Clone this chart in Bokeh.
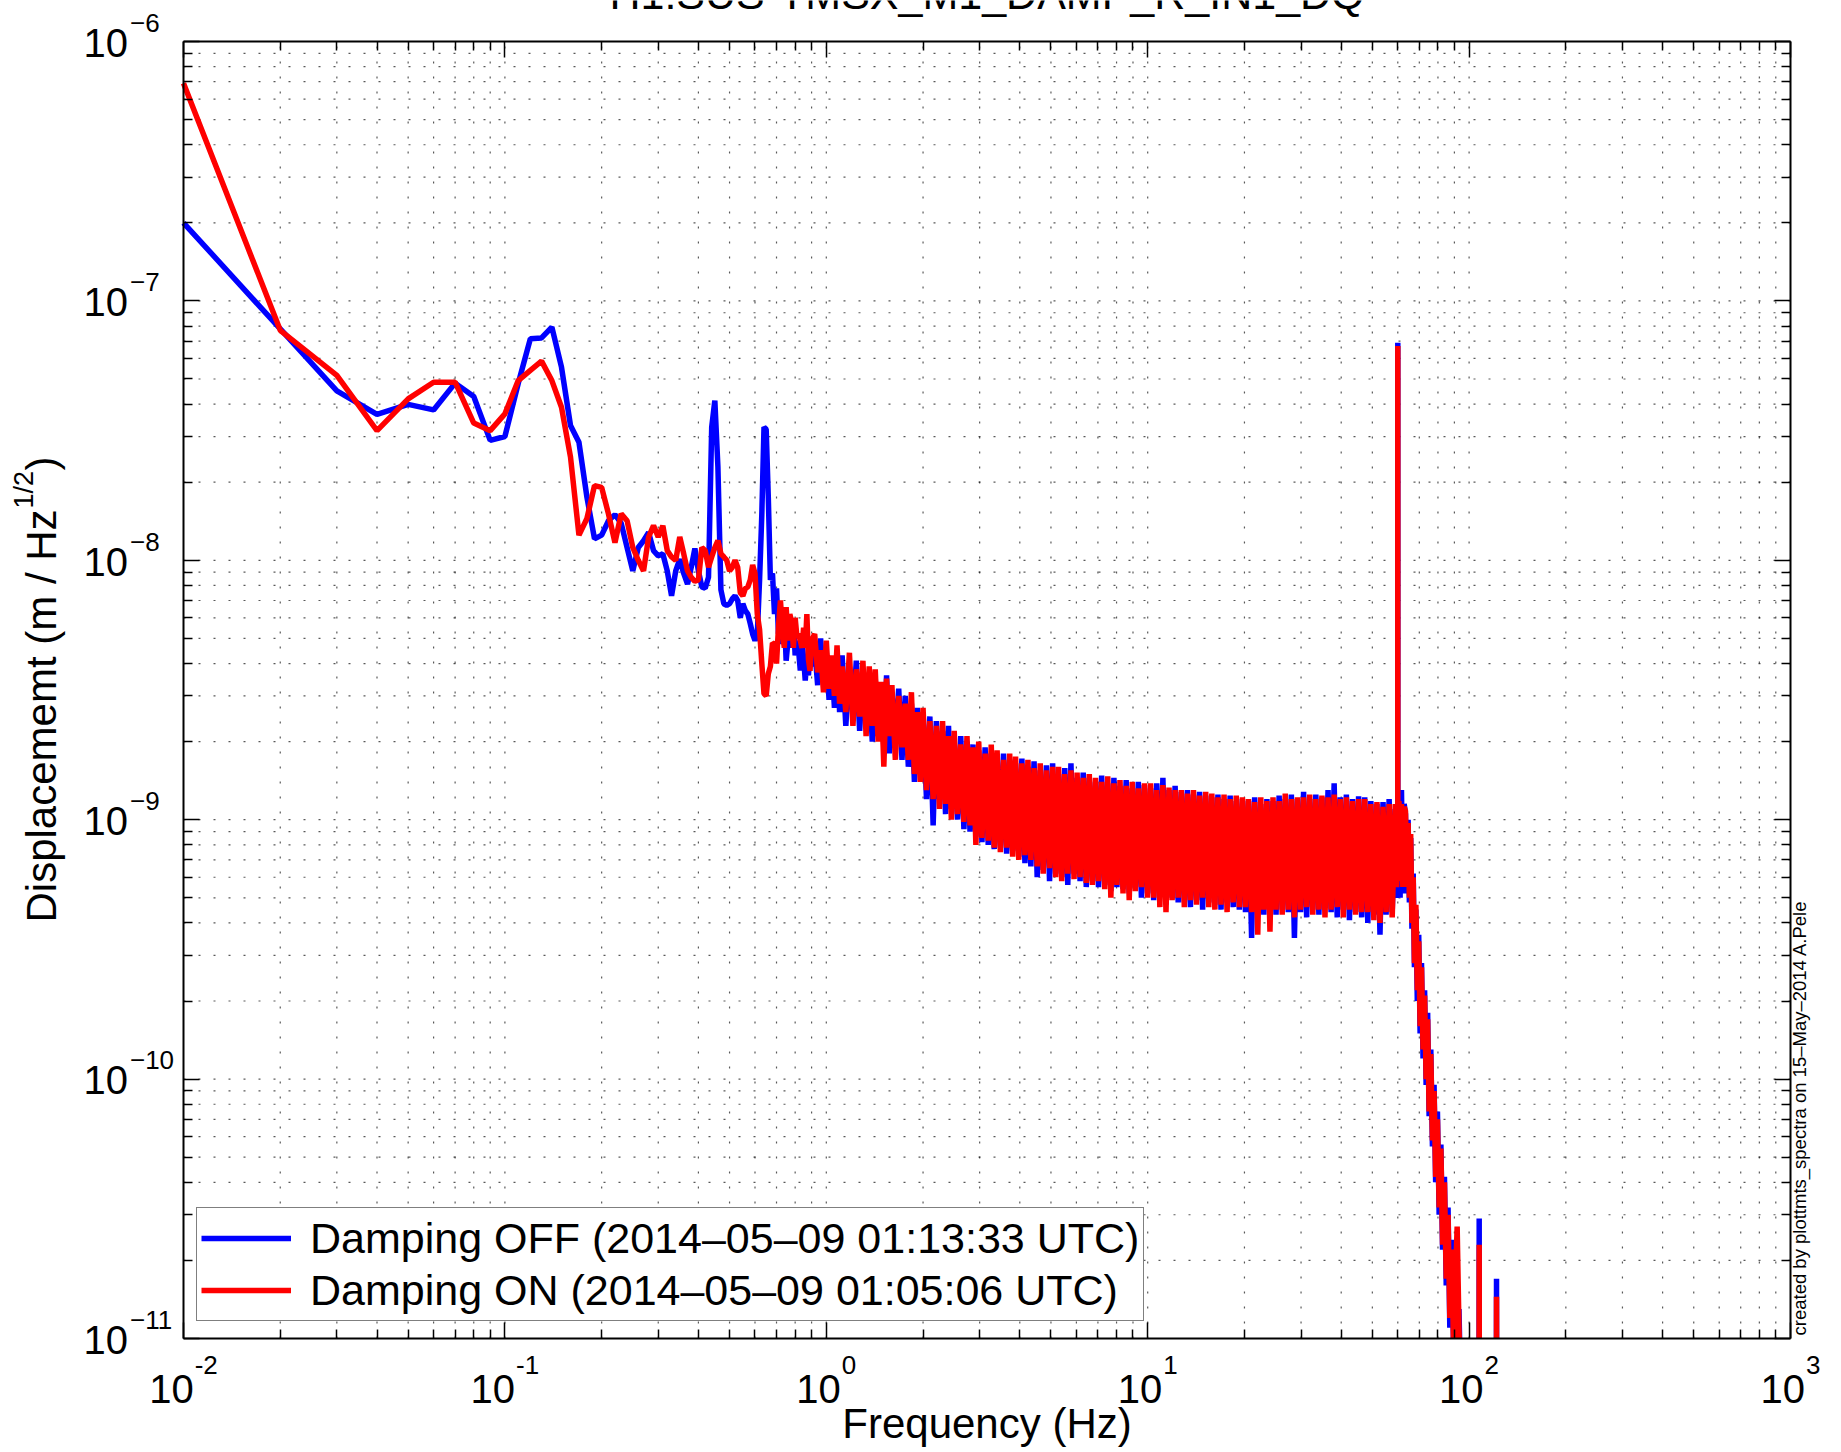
import numpy as np
from bokeh.plotting import figure
from bokeh.models import (Label, FixedTicker, CustomJSTickFormatter, LogAxis,
                          Legend, LegendItem, Range1d, ColumnDataSource)
from bokeh.embed import file_html
from bokeh.resources import INLINE

# ---------------------------------------------------------------- data
# frequency bins (Hz), low-frequency resolved part
freq_low = [0.01, 0.02, 0.03, 0.04, 0.05, 0.06, 0.07, 0.08, 0.09, 0.10,
            0.11, 0.12, 0.13, 0.14, 0.15, 0.16, 0.17, 0.18, 0.19, 0.20,
            0.21, 0.22, 0.23, 0.24, 0.25, 0.26, 0.27, 0.28, 0.29, 0.30,
            0.31, 0.32, 0.33, 0.34, 0.35, 0.36, 0.37, 0.38, 0.39, 0.40,
            0.41, 0.42, 0.43, 0.44, 0.45, 0.46, 0.47, 0.48, 0.49, 0.50,
            0.51, 0.52, 0.53, 0.54, 0.55, 0.56, 0.57, 0.58, 0.59, 0.60,
            0.61, 0.62, 0.63, 0.64, 0.65, 0.66, 0.67, 0.68, 0.69, 0.70,
            0.71, 0.72, 0.73, 0.74, 0.75, 0.76, 0.77, 0.78, 0.79, 0.80,
            0.81, 0.82, 0.83, 0.84, 0.85, 0.86, 0.87, 0.88, 0.89, 0.90]
# displacement in nm/sqrt(Hz) (x1e-9 m/sqrt(Hz)), damping OFF
off_low = [200, 78, 45, 36.5, 39.9, 38, 48.2, 42.8, 29, 30,
           48, 71.5, 72, 79.2, 55.5, 33.1, 28.5, 17.5, 12.1, 12.5,
           14.2, 15, 13.9, 11.2, 9.1, 11.2, 11.9, 12.8, 10.9, 10.4,
           10.6, 9.1, 7.3, 9.1, 10.1, 8.9, 8.1, 9.4, 11.1, 9.1,
           7.9, 7.8, 8.6, 32.6, 41.3, 22.9, 7.7, 6.8, 6.7, 6.8,
           7.1, 7.3, 7.0, 6.0, 6.8, 6.4, 6.2, 5.7, 5.2, 4.9,
           5.2, 8.4, 15, 32.6, 32, 17.5, 8.4, 8.9, 6.2, 7.8,
           5.2, 6.2, 4.75, 6.2, 4.1, 4.9, 5.4, 4.6, 5.9, 4.3,
           4.9, 4.5, 3.76, 4.9, 4.2, 3.44, 4.2, 3.6, 4.6, 3.9]
# damping ON
on_low = [690, 77, 51.6, 31.6, 41.9, 48.6, 48.6, 33.8, 31.6, 36.7,
          49.3, 54, 58.6, 49.3, 38.9, 25, 12.5, 14.5, 19.4, 19.1,
          15.1, 11.7, 15.1, 14.2, 11.2, 10.0, 9.1, 12.3, 13.6, 12.3,
          13.6, 10.9, 10.3, 10.0, 12.3, 10.6, 9.1, 8.6, 8.3, 8.4,
          11.2, 10.9, 9.4, 10.3, 11.2, 11.9, 10.6, 10.3, 10.0, 9.1,
          9.4, 10.0, 9.4, 7.5, 7.3, 7.8, 7.9, 8.4, 9.6, 8.9,
          6.2, 5.4, 4.0, 3.06, 3.0, 3.65, 3.9, 4.8, 4.75, 4.0,
          5.55, 7.0, 5.4, 4.6, 6.6, 4.9, 6.2, 5.8, 4.6, 6.0,
          5.1, 5.2, 4.9, 4.6, 5.5, 4.6, 6.2, 4.15, 3.75, 4.9]

# dense part (read as alternating peaks / troughs of the noisy band)
freq_high = [0.92, 0.94, 0.96, 0.98, 1.00, 1.02, 1.04, 1.06, 1.08, 1.10,
             1.12, 1.15, 1.18, 1.21, 1.24, 1.27, 1.30, 1.33, 1.36, 1.39,
             1.42, 1.45, 1.48, 1.51, 1.54, 1.57, 1.60, 1.64, 1.68, 1.72,
             1.76, 1.80, 1.84, 1.88, 1.92, 1.96, 2.00, 2.05, 2.10, 2.15,
             2.20, 2.25, 2.30, 2.35, 2.40, 2.45, 2.50, 2.56, 2.62, 2.68,
             2.74, 2.80, 2.86, 2.92, 2.98, 3.05, 3.12, 3.19, 3.26, 3.33,
             3.40, 3.48, 3.56, 3.64, 3.72, 3.80, 3.88, 3.97, 4.06, 4.15,
             4.24, 4.33, 4.43, 4.53, 4.63, 4.73, 4.84, 4.95, 5.06, 5.17,
             5.28, 5.40, 5.52, 5.64, 5.77, 5.90, 6.03, 6.16, 6.30, 6.44,
             6.58, 6.73, 6.88, 7.03, 7.19, 7.35, 7.51, 7.68, 7.85, 8.02,
             8.20, 8.38, 8.57, 8.76, 8.95, 9.15, 9.35, 9.56, 9.77, 9.99,
             10.21, 10.44, 10.67, 10.91, 11.15, 11.40, 11.65, 11.91, 12.17, 12.44,
             12.72, 13.00, 13.29, 13.58, 13.88, 14.19, 14.50, 14.82, 15.15, 15.49,
             15.83, 16.18, 16.54, 16.91, 17.28, 17.66, 18.05, 18.45, 18.86, 19.28,
             19.71, 20.15, 20.59, 21.05, 21.52, 22.00, 22.48, 22.98, 23.49, 24.01,
             24.54, 25.08, 25.64, 26.21, 26.79, 27.38, 27.99, 28.61, 29.24, 29.89,
             30.55, 31.23, 31.92, 32.63, 33.35, 34.09, 34.84, 35.61, 36.40, 37.21,
             38.03, 38.87, 39.73, 40.61, 41.51, 42.43, 43.37, 44.33, 45.31, 46.31,
             47.34, 48.39, 49.46, 50.55, 51.67, 52.81, 53.98, 55.17, 56.39, 57.64,
             58.92, 59.50, 59.99, 60.00, 60.01, 60.50, 61.00, 61.60, 62.20, 62.80,
             63.40, 64.00, 64.60, 65.20, 65.80, 66.40, 67.00, 67.60, 68.30, 69.00,
             69.70, 70.40, 71.10, 71.90, 72.70, 73.50, 74.30, 75.10, 76.00, 76.90,
             77.80, 78.70, 79.70, 80.70, 81.70, 82.70, 83.80, 84.90, 86.00, 87.10,
             88.30, 89.50, 90.70, 91.80, 93.00, 94.20, 95.50, 98.00, 101.00, 104.00,
             107.40, 107.50, 107.60, 112.00, 117.00, 121.60, 121.70, 121.80, 125.00, 128.00]
off_high = [4.6, 3.3, 5.0, 3.4, 4.4, 2.9, 4.1, 2.7, 4.5, 2.6,
            4.3, 2.3, 3.9, 2.5, 4.1, 2.2, 3.7, 2.4, 3.6, 2.0,
            3.5, 2.1, 3.3, 1.9, 3.6, 1.8, 3.1, 2.0, 3.2, 1.7,
            3.0, 1.6, 2.8, 1.4, 2.7, 1.5, 2.6, 1.2, 2.5, 0.95,
            2.4, 1.2, 2.2, 1.05, 2.3, 1.1, 2.0, 1.0, 2.1, 0.92,
            2.0, 0.9, 1.95, 0.86, 1.85, 0.82, 1.9, 0.8, 1.8, 0.77,
            1.75, 0.78, 1.8, 0.74, 1.7, 0.76, 1.65, 0.72, 1.72, 0.68,
            1.6, 0.66, 1.68, 0.6, 1.55, 0.64, 1.62, 0.58, 1.65, 0.62,
            1.5, 0.6, 1.58, 0.56, 1.65, 0.62, 1.45, 0.58, 1.52, 0.55,
            1.45, 0.58, 1.4, 0.55, 1.48, 0.56, 1.38, 0.53, 1.45, 0.55,
            1.35, 0.54, 1.42, 0.52, 1.32, 0.55, 1.4, 0.5, 1.36, 0.52,
            1.32, 0.49, 1.38, 0.52, 1.45, 0.47, 1.3, 0.5, 1.35, 0.48,
            1.28, 0.48, 1.3, 0.46, 1.25, 0.49, 1.28, 0.45, 1.24, 0.48,
            1.22, 0.47, 1.25, 0.45, 1.2, 0.48, 1.24, 0.46, 1.18, 0.45,
            1.2, 0.44, 1.18, 0.35, 1.22, 0.45, 1.15, 0.43, 1.2, 0.46,
            1.18, 0.43, 1.24, 0.45, 1.2, 0.44, 1.25, 0.35, 1.2, 0.44,
            1.28, 0.42, 1.2, 0.45, 1.25, 0.43, 1.22, 0.46, 1.3, 0.44,
            1.38, 0.42, 1.22, 0.45, 1.25, 0.41, 1.2, 0.44, 1.23, 0.42,
            1.22, 0.4, 1.18, 0.43, 1.15, 0.36, 1.17, 0.43, 1.2, 0.44,
            1.1, 0.5, 0.6, 69, 0.55, 1.2, 0.5, 1.3, 0.52, 1.15,
            1.05, 0.52, 1.0, 0.48, 0.85, 0.38, 0.62, 0.27, 0.45, 0.2,
            0.36, 0.15, 0.28, 0.12, 0.22, 0.095, 0.18, 0.072, 0.13, 0.055,
            0.095, 0.04, 0.075, 0.03, 0.056, 0.022, 0.042, 0.016, 0.032, 0.011,
            0.024, 0.009, 0.018, 0.01, 0.013, 0.006, 0.008, 0.004, 0.004, 0.0035,
            0.004, 0.029, 0.004, 0.0035, 0.003, 0.004, 0.017, 0.004, 0.003, 0.003]
on_high = [5.2, 3.7, 4.5, 3.1, 4.9, 3.2, 4.3, 3.0, 4.7, 2.8,
           3.9, 2.6, 4.4, 2.3, 3.8, 2.5, 4.1, 2.1, 3.9, 2.3,
           3.8, 2.0, 3.4, 1.6, 3.5, 2.1, 3.3, 1.7, 3.0, 1.9,
           2.8, 1.7, 3.1, 1.5, 2.6, 1.4, 2.7, 1.3, 2.4, 1.2,
           2.3, 1.1, 2.4, 1.15, 2.1, 1.0, 2.2, 1.05, 1.95, 0.98,
           2.1, 0.95, 1.9, 0.8, 2.0, 0.85, 1.8, 0.83, 1.95, 0.78,
           1.85, 0.75, 1.7, 0.78, 1.8, 0.72, 1.75, 0.7, 1.65, 0.73,
           1.7, 0.7, 1.58, 0.66, 1.65, 0.62, 1.55, 0.65, 1.6, 0.6,
           1.6, 0.58, 1.5, 0.62, 1.55, 0.59, 1.52, 0.6, 1.45, 0.57,
           1.5, 0.56, 1.45, 0.58, 1.4, 0.54, 1.47, 0.5, 1.38, 0.56,
           1.42, 0.52, 1.35, 0.49, 1.4, 0.53, 1.32, 0.55, 1.38, 0.5,
           1.38, 0.5, 1.3, 0.46, 1.36, 0.44, 1.33, 0.49, 1.3, 0.5,
           1.3, 0.46, 1.26, 0.49, 1.3, 0.47, 1.24, 0.5, 1.28, 0.46,
           1.26, 0.45, 1.22, 0.47, 1.25, 0.44, 1.2, 0.48, 1.24, 0.46,
           1.22, 0.46, 1.2, 0.44, 1.17, 0.36, 1.22, 0.45, 1.18, 0.37,
           1.22, 0.45, 1.18, 0.43, 1.26, 0.45, 1.2, 0.42, 1.22, 0.45,
           1.22, 0.46, 1.25, 0.43, 1.2, 0.45, 1.24, 0.42, 1.22, 0.45,
           1.25, 0.46, 1.2, 0.42, 1.22, 0.45, 1.18, 0.43, 1.2, 0.44,
           1.2, 0.44, 1.15, 0.41, 1.17, 0.4, 1.12, 0.44, 1.15, 0.42,
           1.15, 0.55, 0.7, 67, 0.6, 1.18, 0.58, 1.15, 0.55, 1.12,
           1.08, 0.55, 0.97, 0.5, 0.88, 0.4, 0.6, 0.28, 0.47, 0.22,
           0.34, 0.16, 0.27, 0.13, 0.21, 0.1, 0.17, 0.075, 0.125, 0.058,
           0.09, 0.042, 0.07, 0.032, 0.054, 0.023, 0.04, 0.017, 0.03, 0.012,
           0.022, 0.009, 0.017, 0.027, 0.011, 0.006, 0.007, 0.004, 0.0035, 0.0035,
           0.004, 0.023, 0.004, 0.0035, 0.003, 0.004, 0.0145, 0.004, 0.003, 0.003]

x_tick_values = [1e-2, 1e-1, 1e0, 1e1, 1e2, 1e3]
x_tick_exps = ["-2", "-1", "0", "1", "2", "3"]
y_tick_values = [1e-11, 1e-10, 1e-9, 1e-8, 1e-7, 1e-6]
y_tick_exps = ["\u221211", "\u221210", "\u22129", "\u22128", "\u22127", "\u22126"]

label_off = "Damping OFF (2014\u201305\u201309 01:13:33 UTC)"
label_on = "Damping ON (2014\u201305\u201309 01:05:06 UTC)"
title_text = "H1:SUS-TMSX_M1_DAMP_R_IN1_DQ"
credit_text = "created by plottmts_spectra on 15\u2013May\u20132014 A.Pele"

NM = 1e-9
freq = np.array(freq_low + freq_high)
off_vals = np.array(off_low + off_high) * NM
on_vals = np.array(on_low + on_high) * NM

# ---------------------------------------------------------------- layout
FONT = "Liberation Sans"
XMIN, XMAX, YMIN, YMAX = 1e-2, 1e3, 1e-11, 1e-6
W_PX, H_PX = 1840, 1451            # whole canvas is the plotting frame
BOX_L, BOX_R, BOX_T, BOX_B = 183, 1790, 41, 1338   # axes box in pixels
dx_dec = (BOX_R - BOX_L) / 5.0
dy_dec = (BOX_B - BOX_T) / 5.0
x_lo = 10 ** (-2 - BOX_L / dx_dec)
x_hi = 10 ** (3 + (W_PX - BOX_R) / dx_dec)
y_hi = 10 ** (-6 + BOX_T / dy_dec)
y_lo = 10 ** (-11 - (H_PX - BOX_B) / dy_dec)

p = figure(frame_width=W_PX, frame_height=H_PX,
           x_axis_type="log", y_axis_type="log",
           x_axis_location=None, y_axis_location=None,
           x_range=Range1d(x_lo, x_hi), y_range=Range1d(y_lo, y_hi),
           output_backend="svg", toolbar_location=None, min_border=0,
           background_fill_color="white", border_fill_color="white")
p.outline_line_color = None
p.grid.visible = False

x_minor = [m * t for t in x_tick_values[:-1] for m in range(2, 10)]
y_minor = [m * t for t in y_tick_values[:-1] for m in range(2, 10)]

# dotted MATLAB-style grid (major + minor), inside the axes box only
gx = x_tick_values[1:-1] + x_minor
gy = y_tick_values[1:-1] + y_minor
grid_kw = dict(line_color="black", line_dash="2 13", line_alpha=0.65, line_width=1.2)
p.segment(x0=gx, y0=[YMIN] * len(gx), x1=gx, y1=[YMAX] * len(gx), **grid_kw)
p.segment(x0=[XMIN] * len(gy), y0=gy, x1=[XMAX] * len(gy), y1=gy, **grid_kw)

src = ColumnDataSource(dict(f=freq, off=off_vals, on=on_vals))
r_off = p.line("f", "off", source=src, line_color="#0000ff", line_width=5.5)
r_on = p.line("f", "on", source=src, line_color="#ff0000", line_width=5.5)

# white mask below the axes box (data that fall under 1e-11 are hidden)
p.quad(left=[x_lo], right=[x_hi], bottom=[y_lo], top=[YMIN],
       fill_color="white", line_color=None)

xticker = FixedTicker(ticks=x_tick_values, minor_ticks=x_minor)
yticker = FixedTicker(ticks=y_tick_values, minor_ticks=y_minor)
blank = CustomJSTickFormatter(code="return ''")


def box_axis(ticker, loc, bounds, side):
    ax = LogAxis(ticker=ticker, formatter=blank, fixed_location=loc, bounds=bounds,
                 major_tick_in=16, major_tick_out=0, minor_tick_in=9, minor_tick_out=0,
                 major_tick_line_width=1.5, minor_tick_line_width=1.5,
                 major_tick_line_color="black", minor_tick_line_color="black",
                 axis_line_width=2, axis_line_color="black",
                 major_label_standoff=0, major_label_text_font_size="1px")
    p.add_layout(ax, side)


box_axis(xticker, YMIN, (XMIN, XMAX), "below")
box_axis(xticker, YMAX, (XMIN, XMAX), "above")
box_axis(yticker, XMIN, (YMIN, YMAX), "left")
box_axis(yticker, XMAX, (YMIN, YMAX), "right")

legend = Legend(items=[LegendItem(label=label_off, renderers=[r_off]),
                       LegendItem(label=label_on, renderers=[r_on])],
                location=(BOX_L + 13, H_PX - BOX_B + 17), orientation="vertical",
                label_text_font=FONT, label_text_font_size="43px",
                label_text_color="black",
                glyph_width=90, glyph_height=52, label_height=52,
                label_standoff=19, spacing=0, padding=4, margin=0,
                border_line_color="black", border_line_width=1.5,
                background_fill_color="white", background_fill_alpha=1.0)
p.add_layout(legend)

BASE_FIX = 0.37   # renderer places the alphabetic baseline this much (in em) too low


def lab(text, x, y, dx, dy, size, align="left", angle=0):
    if angle == 0:
        dy = dy + BASE_FIX * size
    else:
        dx = dx - BASE_FIX * size
    p.add_layout(Label(x=x, y=y, x_offset=dx, y_offset=dy, text=text,
                       text_font=FONT, text_font_size=f"{size}px",
                       text_align=align, text_baseline="alphabetic",
                       text_color="black", angle=angle, angle_units="deg"))


# x tick labels: "10" + superscript exponent, group centred on tick
CW = {"-": 0.333, "\u2212": 0.584}
BIG, SUP = 40, 26
w10 = 2 * 0.556 * BIG
for t, e in zip(x_tick_values, x_tick_exps):
    we = sum(CW.get(c, 0.556) for c in e) * SUP
    W = w10 + 1 + we
    lab("10", t, YMIN, -W / 2 + w10, -65, BIG, align="right")
    lab(e, t, YMIN, -W / 2 + w10 + 1, -36, SUP, align="left")

# y tick labels
for t, e in zip(y_tick_values, y_tick_exps):
    lab("10", XMIN, t, -100, -16, BIG, align="left")
    lab(e, XMIN, t, -100 + w10 + 2, 9, SUP, align="left")

# axis titles
lab("Frequency (Hz)", 10 ** 0.5, YMIN, 0, -101, 42, align="center")
lab("Displacememt (m / Hz", XMIN, YMIN, -126, 416, 42, angle=90)
lab("1/2", XMIN, YMIN, -150, 830, 27, angle=90)
lab(")", XMIN, YMIN, -126, 868, 42, angle=90)

# title (cut by the top edge in the original) and credit
lab(title_text, 10 ** 0.5, YMAX, 0, 32, 43, align="center")
lab(credit_text, XMAX, YMIN, 16, 3, 18.5, angle=90)

open("out.html", "w").write(file_html(p, INLINE))
